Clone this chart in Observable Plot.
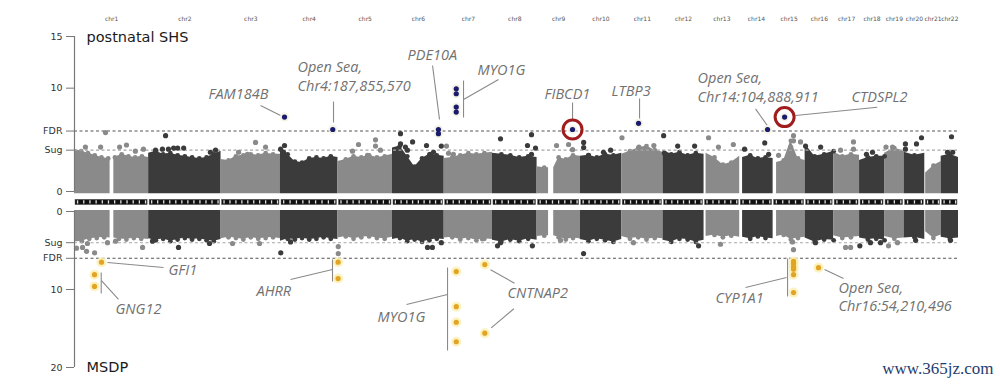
<!DOCTYPE html>
<html><head><meta charset="utf-8">
<script src="https://cdn.jsdelivr.net/npm/d3@7"></script>
<script src="https://cdn.jsdelivr.net/npm/@observablehq/plot@0.6"></script>
<style>
body{margin:0;background:#fff;width:1000px;height:384px;overflow:hidden}
#chart svg{display:block}
</style></head><body><div id="chart"></div>
<script>
// ---------- DATA ----------
const chromosomes = ["chr1","chr2","chr3","chr4","chr5","chr6","chr7","chr8","chr9","chr10","chr11","chr12","chr13","chr14","chr15","chr16","chr17","chr18","chr19","chr20","chr21","chr22"];
const chrLengthMb = [249.25,243.2,198.0,191.15,180.9,171.1,159.1,146.4,141.2,135.5,135.0,133.85,115.2,107.35,102.5,90.35,81.2,78.1,59.1,63.0,48.1,51.3];
const dataStartMb = [0,0,0,0,0,0,0,0,0,0,0,0,7,10,12,0,0,0,0,0,3,0];
const dataGapsMb = [[1,124,137],[9,40,58]]; // chr, from, to (no probes)
const bandCounts = [12,12,10,9,9,9,8,7,7,7,7,7,6,5,5,5,4,4,3,3,3,3];

// bulk envelope of -log10(p), sampled evenly along each chromosome
const topEnvelope = [
 [4.1,3.9,3.7,3.5,3.3,3.2,3.3,3.6,3.4,3.3,3.4,3.3],
 [3.7,3.9,3.6,3.7,3.5,3.4,3.3,3.2,3.3,3.6,3.9],
 [3.1,3.0,3.4,3.5,3.6,3.5,3.7,3.6,3.6],
 [4.3,3.6,2.9,2.8,3.2,3.3,3.2,3.4,3.3],
 [2.9,3.1,3.4,3.3,3.5,3.3,3.4,3.6],
 [4.2,4.4,3.4,2.4,3.2,3.6,3.5,3.4],
 [3.2,3.3,3.5,3.7,3.6,3.7,3.8],
 [3.7,3.6,3.5,3.3,3.4,3.3],
 [2.4,2.3,2.3,3.3,3.1,3.5,3.4],
 [3.4,3.5,3.3,3.6,3.5,3.7],
 [3.6,3.9,4.2,4.4,4.0,3.8],
 [4.0,3.6,3.8,3.5,3.7,3.6],
 [3.7,3.3,2.6,2.8,3.4],
 [3.3,3.5,3.2,3.3,3.2],
 [2.8,3.0,4.9,3.2,3.0],
 [4.6,3.4,3.6,3.9],
 [3.8,3.4,3.6,3.5],
 [3.0,3.3,3.4,3.4],
 [3.7,4.2,3.9],
 [3.8,3.5,3.7],
 [1.8,2.5,2.9],
 [3.4,3.6,3.3]
];
const bottomEnvelope = [
 [3.9,3.8,3.5,3.4,3.3,3.4,3.5,3.6,3.4,3.5,3.6],
 [3.5,3.7,3.5,3.8,3.6,3.4,3.6,3.5,3.7,3.8,3.6],
 [3.5,3.3,3.4,3.6,3.3,3.5,3.4,3.3,3.5],
 [3.8,3.5,3.6,3.4,3.6,3.5,3.3,3.5,3.6],
 [3.4,3.2,3.5,3.3,3.2,3.4,3.5,3.3],
 [3.6,3.4,3.8,3.6,3.9,3.7,3.5,3.6],
 [3.4,3.3,3.6,3.4,3.7,3.5,3.6],
 [3.7,3.9,3.6,3.8,3.5,3.7],
 [3.2,3.1,3.1,3.3,3.6,3.4,3.5],
 [3.6,3.8,3.5,3.7,3.9,3.6],
 [3.2,3.5,3.3,3.6,3.4,3.5],
 [3.7,3.9,3.5,3.6,3.9,3.7],
 [3.2,3.0,3.3,3.1,3.3],
 [3.3,3.5,3.2,3.4,3.5],
 [3.2,3.0,3.6,3.4,3.3],
 [3.4,3.9,3.6,3.7],
 [3.1,3.4,3.3,3.2],
 [3.4,3.6,3.5,3.7],
 [3.2,3.5,3.4],
 [3.4,3.3,3.6],
 [2.6,3.4,3.0],
 [3.3,3.5,3.4]
];

// individual CpGs above the bulk: [chr, position Mb, -log10 p]
const topScatter = [
 [1,38,4.3],[1,91,4.3],[1,108,5.7],[1,157,4.3],[1,181,4.5],[1,212,3.9],[1,240,4.1],
 [2,24,4.0],[2,48,4.1],[2,59,5.4],[2,69,4.1],[2,87,4.2],[2,101,4.2],[2,122,4.2],[2,215,3.8],[2,233,4.0],
 [3,61,3.8],[3,92,3.6],[3,120,4.75],[3,155,4.3],
 [4,0.5,4.1],[4,10.5,3.8],[4,14,4.45],
 [5,50.7,3.9],[5,71.6,4.55],[5,103,3.5],[5,130.8,5.0],[5,130.8,4.4],[5,148,4.0],
 [6,28,5.6],[6,28,4.6],[6,45,4.3],[6,52,4.0],[6,70,4.8],[6,118.5,4.45],[6,132.5,3.6],[6,143,3.8],[6,170,4.4],
 [7,8,4.4],[7,15,3.7],[7,32,3.6],
 [8,28,5.1],[8,122,4.45],[8,136,5.5],[8,136,3.6],[8,150,4.2],
 [9,67.8,4.45],[9,109.6,4.55],[9,123.5,4.05],
 [10,12,4.75],[10,12,4.25],[10,29,3.5],[10,81,3.8],[10,106,4.0],
 [11,1,5.2],[11,60,4.3],[11,112,4.45],
 [12,2,5.4],[12,5,3.7],[12,51,4.4],[12,110,4.4],
 [13,15.7,5.2],[13,50,4.3],[13,102,4.55],
 [14,17,4.1],[14,87,4.7],[14,100.7,3.6],
 [15,19,3.5],[15,61,4.3],[15,71,5.4],[15,71,4.9],[15,95.5,4.8],
 [16,1.5,4.4],[16,54,4.3],
 [17,24,4.0],[17,69,4.8],[17,69,4.1],
 [18,24,3.6],[18,45,3.8],
 [19,5,4.3],[19,27.7,4.3],
 [20,4.6,4.6],[20,4.6,4.1],[20,43,4.6],[20,60.5,5.2],
 [22,22,3.8],[22,36,5.3],[22,40,3.8]
];
const bottomScatter = [
 [1,7,4.7],[1,28,4.6],[1,42,5.1],[1,45,4.1],[1,70,5.3],[1,115,4.0],[1,143,3.8],[1,237,4.6],
 [2,13.4,3.8],[2,104,4.6],[2,212,4.1],
 [3,40,4.1],[3,134,4.1],
 [4,1,5.3],[4,35,3.9],
 [5,1,4.5],[5,1,5.4],
 [6,122,4.6],[6,139,4.6],[6,170,4.0],
 [7,133,3.5],
 [8,17.6,4.4],[8,28,4.0],[8,139,4.4],
 [9,81.7,3.7],
 [10,11.7,5.4],
 [11,41,4.0],
 [12,123.7,4.4],
 [13,57.4,4.2],
 [15,67.5,3.9],[15,71,4.9],
 [16,36,4.0],
 [17,41.5,4.6],[17,59,4.6],
 [18,1,4.4],[18,38,4.0],[18,73,4.0],
 [19,13.7,4.4],[19,45,4.0],
 [20,40,3.7],
 [22,32.5,3.7]
];

// significant CpGs: [chr, position Mb, -log10 p]
const shsSignificant = [
 [4,14,7.2],[4,182,6.0],[6,160,6.0],[6,160,5.6],
 [7,42,9.94],[7,42,9.46],[7,42,8.17],[7,42,7.69],
 [9,123.5,6.0],[11,58.7,6.6],[14,97,6.0],[15,40,7.2]
];
const shsCircled = [[9,123.5,6.0],[15,40,7.2]];
const msdpSignificant = [
 [1,94,6.5],[1,69.7,8.1],[1,69.7,9.6],
 [5,0.5,6.5],[5,0.5,8.6],
 [7,42,7.7],[7,42,12.2],[7,42,14.2],[7,42,16.7],
 [7,141.5,6.8],[7,141.5,15.6],
 [15,71.2,6.4],[15,71.2,6.7],[15,71.2,7.1],[15,71.2,7.4],[15,71.2,8.1],[15,71.2,10.4],
 [16,46.7,7.2]
];

const topThresholds = {Sug: 4.0, FDR: 5.85};
const bottomThresholds = {Sug: 4.0, FDR: 6.0};
const topTickValues = [0, 4.0, 5.85, 10, 15];
const topTickLabels = ["0","Sug","FDR","10","15"];
const bottomTickValues = [0, 4.0, 6.0, 10, 20];
const bottomTickLabels = ["0","Sug","FDR","10","20"];

// annotation labels (x in genome Mb coordinate, y in -log10 p)
const shsLabels = [
 {text:"FAM184B", x:466.7, y:9.0},
 {text:"Open Sea,\nChr4:187,855,570", x:776.7, y:9.7},
 {text:"PDE10A", x:1159.9, y:12.68},
 {text:"MYO1G", x:1403.7, y:11.23},
 {text:"FIBCD1", x:1637.1, y:9.0},
 {text:"LTBP3", x:1870.4, y:9.29},
 {text:"Open Sea,\nChr14:104,888,911", x:2170, y:8.64},
 {text:"CTDSPL2", x:2706.4, y:8.64}
];
const shsLeaders = [
 [647.9,8.32,717.5,7.35],[902.1,8.71,902.1,6.68],[1247,12.19,1271.3,6.97],
 [1354.9,10.74,1354.9,7.16],[1354.9,8.9,1476.8,10.84],[1734.6,8.61,1734.6,6.87],
 [1968,9.0,1968,7.06],[2372,8.0,2412.7,6.39],[2795.8,8.16,2511.4,7.35]
];
const msdpLabels = [
 {text:"GFI1", x:327.4, y:8.08},
 {text:"GNG12", x:142.8, y:13.2},
 {text:"AHRR", x:633.9, y:10.77},
 {text:"MYO1G", x:1055.4, y:14.23},
 {text:"CNTNAP2", x:1508.2, y:11.15},
 {text:"CYP1A1", x:2232.7, y:11.79},
 {text:"Open Sea,\nChr16:54,210,496", x:2661.1, y:12.82}
];
const msdpLeaders = [
 [310,7.18,114.9,6.54],[153.3,11.28,94,8.85],[93,7.82,93,10.51],
 [752.3,8.72,898.6,7.44],[898.6,6.15,898.6,8.97],
 [1156.4,11.92,1299.2,10.64],[1299.2,7.18,1299.2,17.82],
 [1449,7.47,1532.6,9.19],[1530.1,12.47,1451.4,14.91],
 [2337.2,9.74,2480,8.46],[2483.5,6.03,2483.5,10.9],
 [2678.5,8.59,2612.3,7.44]
];

// ---------- LAYOUT ----------
const PAD = 9;
const offsets = [];
let acc = 0;
chrLengthMb.forEach(L => { offsets.push(acc); acc += L + PAD; });
const genomeEnd = acc;
const LIGHT = "#8a8a8a", DARK = "#3b3b3b";
const chrColor = i => i % 2 === 0 ? LIGHT : DARK;
const gx = (chr, pos) => offsets[chr - 1] + pos;

function envRows(env) {
  const rows = [];
  chromosomes.forEach((c, i) => {
    const s = dataStartMb[i], e = chrLengthMb[i] + PAD, vals = env[i], n = vals.length;
    const samples = vals.map((v, k) => ({p: s + (e - s) * k / (n - 1), v}));
    let segs = [[s, e]];
    dataGapsMb.filter(g => g[0] === i + 1).forEach(([, a, b]) => {
      segs = segs.flatMap(([x0, x1]) => (a > x0 && b < x1) ? [[x0, a], [b, x1]] : [[x0, x1]]);
    });
    const near = p => samples.reduce((best, q) => Math.abs(q.p - p) < Math.abs(best.p - p) ? q : best).v;
    segs.forEach(([a, b], j) => {
      const inner = samples.filter(q => q.p > a && q.p < b);
      const pts = [{p: a, v: near(a), edge: true}, ...inner, {p: b, v: near(b), edge: true}];
      pts.forEach(q => rows.push({x: offsets[i] + q.p, v: q.v, seg: i + "-" + j, fill: chrColor(i), edge: !!q.edge}));
    });
  });
  return rows;
}
const scatterRows = arr => arr.map(([c, p, v]) => ({x: gx(c, p), v, fill: chrColor(c - 1)}));
const sigRows = arr => arr.map(([c, p, v]) => ({x: gx(c, p), v}));
const leaderRows = arr => arr.map(([x1, y1, x2, y2]) => ({x1, y1, x2, y2}));

const chrIdx = chromosomes.map((c, i) => i);
const bandRows = chrIdx.flatMap(i => d3.range(bandCounts[i]).map(k => ({x: offsets[i] + (chrLengthMb[i] + PAD) * (k + 0.5) / bandCounts[i]})));

const annoFont = {fontFamily: "Open Sans", fontStyle: "italic", fontSize: 14.5, fill: "#717171", textAnchor: "start", lineAnchor: "bottom", lineHeight: 1.3};
const common = {
  width: 1000, marginLeft: 74, marginRight: 42,
  x: {domain: [0, genomeEnd], axis: null},
  color: {type: "identity"},
  style: {fontFamily: "DejaVu Sans", background: "transparent", overflow: "visible"}
};
const yAxis = (vals, labs, max) => {
  const m = new Map(vals.map((v, i) => [v, labs[i]]));
  return [
    Plot.ruleX([0], {y1: 0, y2: max, stroke: "#777", strokeWidth: 1.2}),
    Plot.axisY({ticks: vals, tickFormat: d => m.get(d), tickSize: 8, tickPadding: 4, fontSize: 9.5, stroke: "#777", fill: "#333", label: null})
  ];
};
const bulk = (env, base) => {
  const rows = envRows(env);
  const ridge = rows.filter(d => !d.edge);
  return [
    Plot.areaY(rows, {x: "x", y1: base, y2: "v", z: "seg", fill: "fill", curve: "linear"}),
    Plot.dot(ridge, {x: "x", y: "v", r: 2.4, fill: "fill"})
  ];
};

// ---------- TOP PANEL ----------
const shsPlot = Plot.plot({
  ...common, height: 206, marginTop: 36, marginBottom: 15,
  y: {domain: [0, 15]},
  marks: [
    Plot.text(chromosomes, {x: (d, i) => offsets[i] + (chrLengthMb[i] + PAD) / 2, frameAnchor: "top", dy: -20, text: d => d, fontSize: 6, fill: "#555"}),
    ...bulk(topEnvelope, -0.22),
    Plot.ruleY([topThresholds.Sug], {stroke: "#a6a6a6", strokeDasharray: "3,2.5", strokeWidth: 1.1}),
    Plot.ruleY([topThresholds.FDR], {stroke: "#555", strokeDasharray: "3,2.5", strokeWidth: 1.1}),
    Plot.dot(scatterRows(topScatter), {x: "x", y: "v", r: 2.6, fill: "fill"}),
    Plot.rect(chrIdx, {x1: i => offsets[i], x2: i => offsets[i] + chrLengthMb[i] + PAD, y1: -0.8, y2: -1.32, fill: "#111", stroke: "#666", strokeWidth: 0.5, insetLeft: 1, insetRight: 1}),
    Plot.ruleX(bandRows, {x: "x", y1: -0.9, y2: -1.22, stroke: "#e0e0e0", strokeWidth: 1.3}),
    Plot.link(leaderRows(shsLeaders), {x1: "x1", y1: "y1", x2: "x2", y2: "y2", stroke: "#8a8a8a", strokeWidth: 1.1}),
    Plot.dot(sigRows(shsSignificant), {x: "x", y: "v", r: 4.5, fill: "#f3f0dc", fillOpacity: 0.8}),
    Plot.dot(sigRows(shsSignificant), {x: "x", y: "v", r: 2.6, fill: "#1b1b6e"}),
    Plot.dot(sigRows(shsCircled), {x: "x", y: "v", r: 9.5, stroke: "#a11c1c", strokeWidth: 3, fill: "none"}),
    Plot.text(shsLabels, {x: "x", y: "y", text: "text", ...annoFont}),
    Plot.text(["postnatal SHS"], {x: 41.8, y: 14.42, text: d => d, textAnchor: "start", lineAnchor: "bottom", fontSize: 14.5, fill: "#1a1a1a"}),
    ...yAxis(topTickValues, topTickLabels, 15)
  ]
});

// ---------- BOTTOM PANEL ----------
const msdpPlot = Plot.plot({
  ...common, height: 178, marginTop: 5, marginBottom: 17,
  y: {domain: [0, 20], reverse: true},
  marks: [
    ...bulk(bottomEnvelope, -0.12),
    Plot.ruleY([bottomThresholds.Sug], {stroke: "#a6a6a6", strokeDasharray: "3,2.5", strokeWidth: 1.1}),
    Plot.ruleY([bottomThresholds.FDR], {stroke: "#555", strokeDasharray: "3,2.5", strokeWidth: 1.1}),
    Plot.dot(scatterRows(bottomScatter), {x: "x", y: "v", r: 2.6, fill: "fill"}),
    Plot.link(leaderRows(msdpLeaders), {x1: "x1", y1: "y1", x2: "x2", y2: "y2", stroke: "#8a8a8a", strokeWidth: 1.1}),
    Plot.dot(sigRows(msdpSignificant), {x: "x", y: "v", r: 5, fill: "#fbf0b4", fillOpacity: 0.85}),
    Plot.dot(sigRows(msdpSignificant), {x: "x", y: "v", r: 2.6, fill: "#e2a424"}),
    Plot.text(msdpLabels, {x: "x", y: "y", text: "text", ...annoFont}),
    Plot.text(["MSDP"], {x: 41.8, y: 20.64, text: d => d, textAnchor: "start", lineAnchor: "bottom", fontSize: 14.5, fill: "#1a1a1a"}),
    Plot.text(["www.365jz.com"], {frameAnchor: "bottom-right", dx: 35, dy: 6, text: d => d, textAnchor: "end", lineAnchor: "bottom", fontFamily: "Liberation Serif", fontSize: 17, fill: "#1f3d70"}),
    ...yAxis(bottomTickValues, bottomTickLabels, 20)
  ]
});

document.getElementById("chart").append(shsPlot, msdpPlot);
</script></body></html>
